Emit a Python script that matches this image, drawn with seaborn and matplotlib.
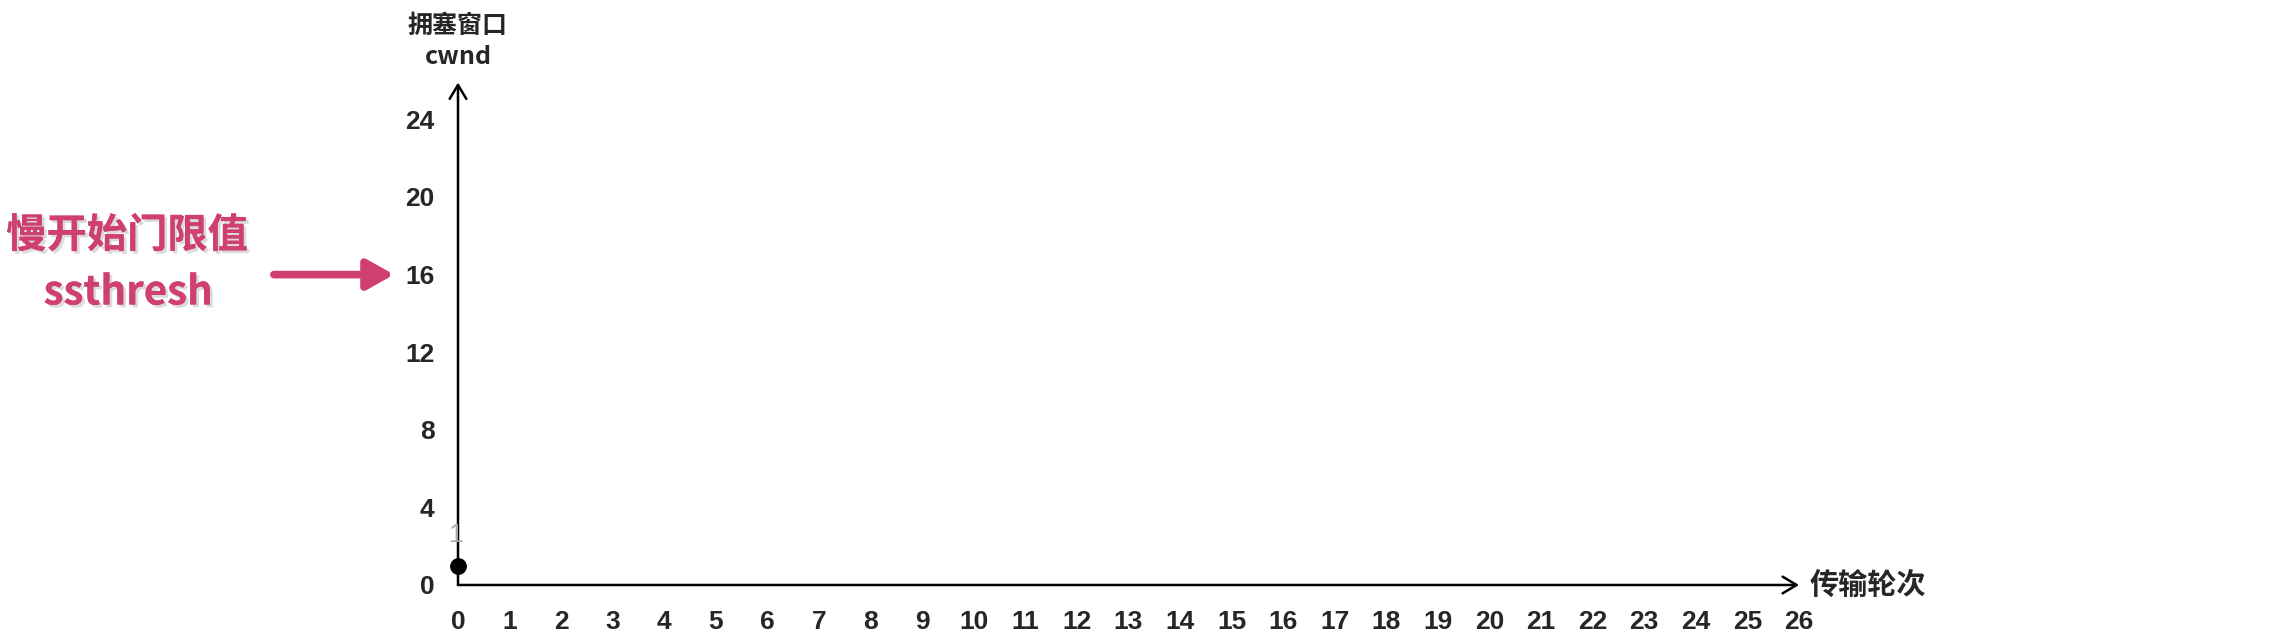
import matplotlib
matplotlib.use("Agg")
import matplotlib.pyplot as plt
import matplotlib.patheffects as pe
from matplotlib import font_manager
import seaborn as sns
import pandas as pd

# data
rounds = [0]
cwnd = [1]
x_ticks = list(range(0, 27))
y_ticks = [0, 4, 8, 12, 16, 20, 24]
ssthresh = 16
y_label = "拥塞窗口\ncwnd"
x_label = "传输轮次"
note_cn = "慢开始门限值"
note_en = "ssthresh"
pink = "#CF3F72"

sns.set_theme(style="white")
cjk = ["Noto Sans CJK SC", "DejaVu Sans"]
plt.rcParams["font.family"] = cjk

names = {f.name for f in font_manager.fontManager.ttflist}
num_font = "Liberation Sans Narrow" if "Liberation Sans Narrow" in names else "Liberation Sans"

df = pd.DataFrame({"round": rounds, "cwnd": cwnd})

fig = plt.figure(figsize=(22.88, 6.4), dpi=100)
ax = fig.add_axes([458 / 2288, 1 - 585 / 640, 1341 / 2288, (585 - 80.6) / 640])

sns.scatterplot(data=df, x="round", y="cwnd", ax=ax, color="black", s=125,
                edgecolor="black", zorder=5, clip_on=False)

ax.set_xlim(0, 26)
ax.set_ylim(0, 26)
for s in ax.spines.values():
    s.set_visible(False)

ax.set_xticks(x_ticks)
ax.set_yticks(y_ticks)
ax.set_xticklabels([str(t) for t in x_ticks], fontsize=19, fontweight="bold", family=num_font)
ax.set_yticklabels([str(t) for t in y_ticks], fontsize=19, fontweight="bold", family=num_font)
ax.tick_params(axis="x", length=0, pad=18)
ax.tick_params(axis="y", length=0, pad=17)
ax.set_xlabel("")
ax.set_ylabel("")

# axis arrows
arrow = dict(arrowstyle="->,head_length=0.5,head_width=0.3", lw=1.8, color="black",
             shrinkA=0, shrinkB=0, mutation_scale=20)
ax.annotate("", xy=(26, 0), xytext=(0, 0), arrowprops=arrow, annotation_clip=False)
ax.annotate("", xy=(0, 25.9), xytext=(0, 0), arrowprops=arrow, annotation_clip=False)

ax.text(26.2, 0, x_label, fontsize=21, fontweight="bold", ha="left", va="center",
        family=cjk)
ax.text(0, 26.6, y_label, fontsize=18, fontweight="bold", ha="center", va="bottom",
        family=cjk, linespacing=1.4)

# faint leftover mark
ax.text(-0.04, 2.6, "1", fontsize=19, color="#a8a8a8", ha="center", va="center",
        family=num_font)

# ssthresh note
shadow = [pe.withSimplePatchShadow(offset=(2, -2), shadow_rgbFace="#999999", alpha=0.35),
          pe.Normal()]
fig.text(127 / 2288, 1 - 236 / 640, note_cn, fontsize=29, fontweight="bold", color=pink,
         ha="center", va="center", family=cjk, path_effects=shadow)
fig.text(128 / 2288, 1 - 293 / 640, note_en, fontsize=29, fontweight="bold", color=pink,
         ha="center", va="center", family=cjk, path_effects=shadow)
ax.annotate("", xy=(-1.24, ssthresh), xytext=(-3.57, ssthresh),
            arrowprops=dict(arrowstyle="-|>,head_length=0.8,head_width=0.45", lw=5.5,
                            color=pink, shrinkA=0, shrinkB=0, mutation_scale=20,
                            capstyle="round"),
            annotation_clip=False)

fig.savefig("out.png", dpi=100, facecolor="white")
